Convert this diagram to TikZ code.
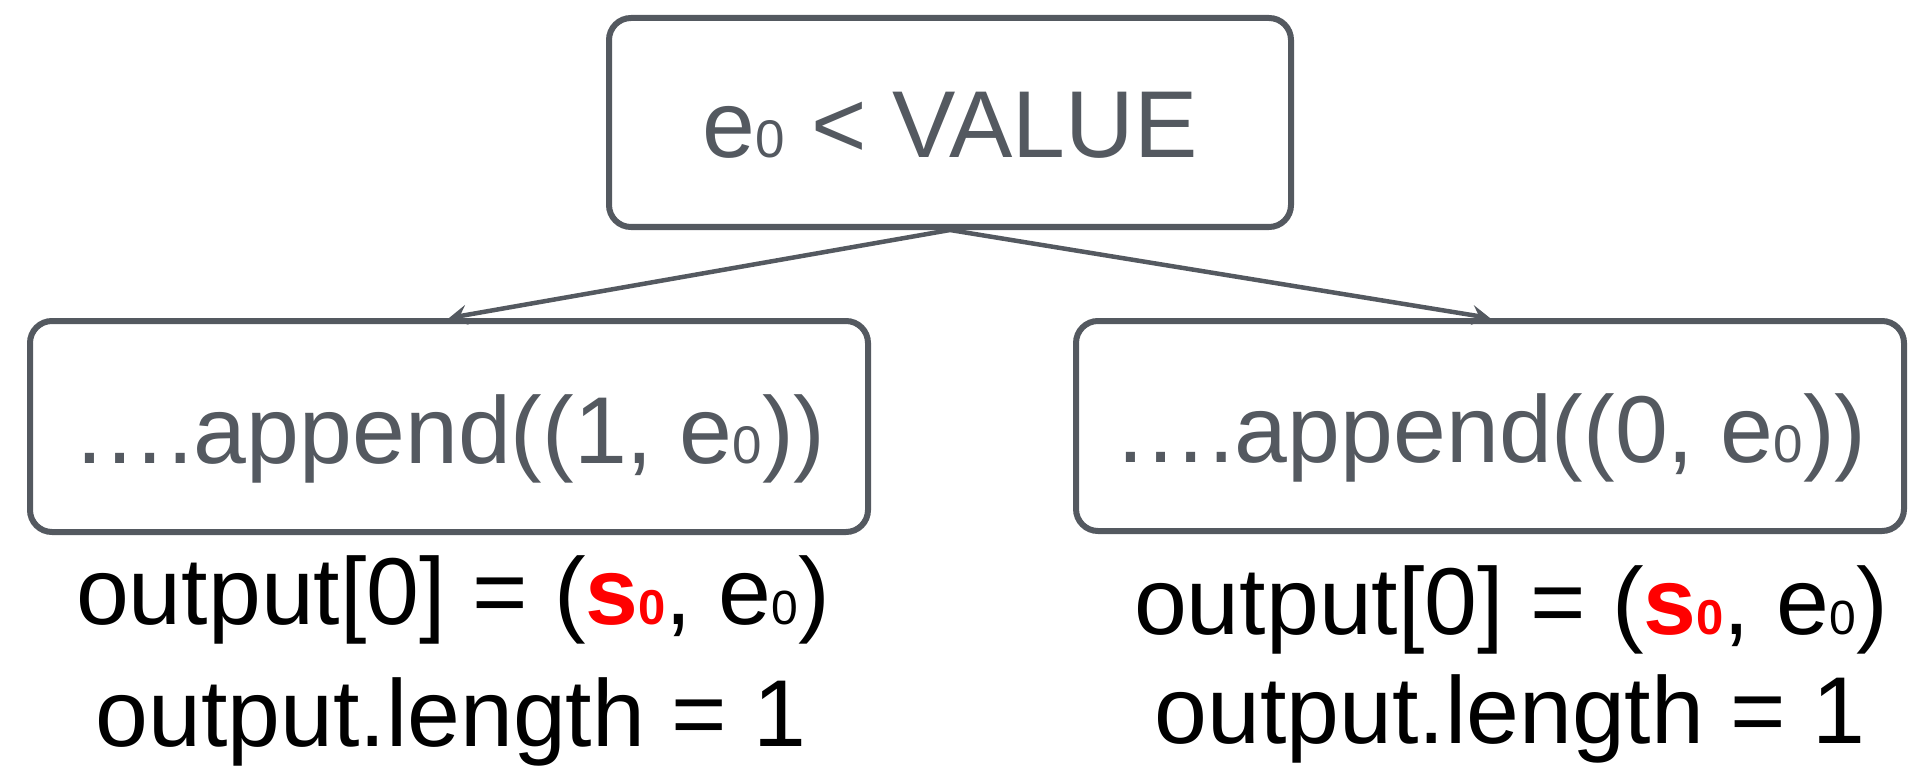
\documentclass[tikz,border=0pt]{standalone}
\usepackage{fontspec}
\setmainfont{Liberation Sans}
\usetikzlibrary{arrows.meta}
\definecolor{ink}{RGB}{84,89,96}
\definecolor{hl}{RGB}{255,0,0}
\newcommand{\zsub}[2]{{\fontsize{#1}{#1}\selectfont #2}}
\newcommand{\redsub}{{\color{hl}\bfseries s\zsub{49}{0}}}
\begin{document}
\begin{tikzpicture}[x=1pt,y=-1pt,
  box/.style={draw=ink, line width=6pt, rounded corners=22pt, text=ink,
    font=\fontsize{95}{110}\selectfont, inner sep=0pt, text depth=0pt},
  lbl/.style={anchor=base, inner sep=0pt, font=\fontsize{95}{110}\selectfont, text=black},
  link/.style={draw=ink, line width=4.5pt, -{Stealth[length=18pt,width=20pt,inset=7pt]}}]
\useasboundingbox (0,0) rectangle (1911,770);

\node[box, minimum width=682pt, minimum height=209pt, text height=71pt] (cond) at (950,122.5) {e\zsub{53}{0} < VALUE};
\node[box, minimum width=838pt, minimum height=211pt, text height=73pt] (left) at (449,426.5) {….append((1, e\zsub{53}{0}))};
\node[box, minimum width=828pt, minimum height=210pt, text height=73pt] (right) at (1490,426) {….append((0, e\zsub{53}{0}))};

\draw[link] (cond.south) -- (left.north);
\draw[link] (cond.south) -- (right.north);

\node[lbl] (lout) at (453,624) {output[0] = (\redsub, e\zsub{48}{0})};
\node[lbl] (llen) at (451,746) {output.length = 1};
\node[lbl] (rout) at (1511,634) {output[0] = (\redsub, e\zsub{48}{0})};
\node[lbl] (rlen) at (1510,743) {output.length = 1};
\end{tikzpicture}
\end{document}
